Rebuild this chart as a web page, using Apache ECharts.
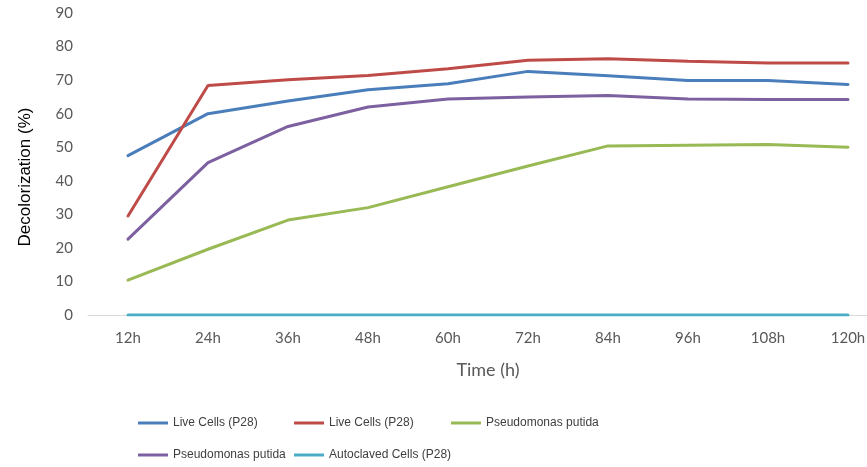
<!DOCTYPE html>
<html>
<head>
<meta charset="utf-8">
<script src="https://cdn.jsdelivr.net/npm/echarts@6/dist/echarts.min.js"></script>
<style>
  html, body { margin: 0; padding: 0; background: #fff; }
  #chart { width: 867px; height: 467px; }
</style>
</head>
<body>
<div id="chart"></div>
<script>
// Sampling times
const hours = ['12h', '24h', '36h', '48h', '60h', '72h', '84h', '96h', '108h', '120h'];

// Decolorization (%) per series
const liveCellsA   = [47.5, 60.0, 63.8, 67.1, 68.9, 72.6, 71.3, 69.9, 69.9, 68.7];
const liveCellsB   = [29.5, 68.4, 70.1, 71.4, 73.4, 75.9, 76.4, 75.6, 75.1, 75.1];
const putidaA      = [10.4, 19.6, 28.3, 32.0, 38.2, 44.4, 50.4, 50.6, 50.8, 50.0];
const putidaB      = [22.6, 45.4, 56.2, 62.0, 64.4, 65.0, 65.4, 64.4, 64.2, 64.2];
const autoclaved   = [0, 0, 0, 0, 0, 0, 0, 0, 0, 0];

// Axis ticks
const yTicks = { min: 0, max: 90, interval: 10 };

// Legend labels (second copies carry a trailing space to stay distinct)
const nameLiveA = 'Live Cells (P28)';
const nameLiveB = 'Live Cells (P28) ';
const namePutA = 'Pseudomonas putida';
const namePutB = 'Pseudomonas putida ';
const nameAuto = 'Autoclaved Cells (P28)';

const colors = {
  blue: '#4a7ebb', red: '#be4b48', green: '#98b954', purple: '#7d60a0', cyan: '#4bacc6'
};

const tickFont = { color: '#595959', fontSize: 15, fontFamily: 'Lato, "Open Sans", sans-serif' };
const legendFont = { color: '#404040', fontSize: 12, fontFamily: '"Liberation Sans", Arial, sans-serif' };

function lineSeries(name, data, color) {
  return {
    name, type: 'line', data, symbol: 'none', smooth: false,
    lineStyle: { color, width: 3, cap: 'round' }, itemStyle: { color },
    emphasis: { disabled: true }
  };
}

function legendColumn(left, names) {
  return {
    orient: 'vertical', left, top: 412, itemGap: 20,
    icon: 'rect', itemWidth: 30, itemHeight: 3, itemGap: 20,
    textStyle: legendFont, data: names, selectedMode: false
  };
}

const chart = echarts.init(document.getElementById('chart'), null, { renderer: 'canvas' });
chart.setOption({
  animation: false,
  backgroundColor: '#fff',
  grid: { left: 88, top: 13, right: -21, bottom: 152, containLabel: false, outerBoundsMode: 'none' },
  xAxis: {
    type: 'category', data: hours, boundaryGap: true,
    axisLine: { lineStyle: { color: '#d9d9d9', width: 1 } },
    axisTick: { show: false },
    axisLabel: Object.assign({ margin: 16 }, tickFont),
    name: 'Time (h)', nameLocation: 'middle', nameGap: 46,
    nameTextStyle: { color: '#595959', fontSize: 18, fontFamily: 'Lato, "Open Sans", sans-serif' }
  },
  yAxis: {
    type: 'value', min: yTicks.min, max: yTicks.max, interval: yTicks.interval,
    axisLine: { show: false }, axisTick: { show: false }, splitLine: { show: false },
    axisLabel: Object.assign({ margin: 15 }, tickFont)
  },
  graphic: [{
    type: 'text', x: 25, y: 177, rotation: Math.PI / 2,
    style: {
      text: 'Decolorization (%)', fill: '#000', fontSize: 17,
      fontFamily: '"Liberation Sans", Arial, sans-serif',
      align: 'center', verticalAlign: 'middle'
    }
  }],
  legend: [
    legendColumn(133, [nameLiveA, namePutB]),
    legendColumn(289, [nameLiveB, nameAuto]),
    legendColumn(446, [namePutA])
  ],
  series: [
    lineSeries(nameLiveA, liveCellsA, colors.blue),
    lineSeries(nameLiveB, liveCellsB, colors.red),
    lineSeries(namePutA, putidaA, colors.green),
    lineSeries(namePutB, putidaB, colors.purple),
    lineSeries(nameAuto, autoclaved, colors.cyan)
  ]
});
</script>
</body>
</html>
